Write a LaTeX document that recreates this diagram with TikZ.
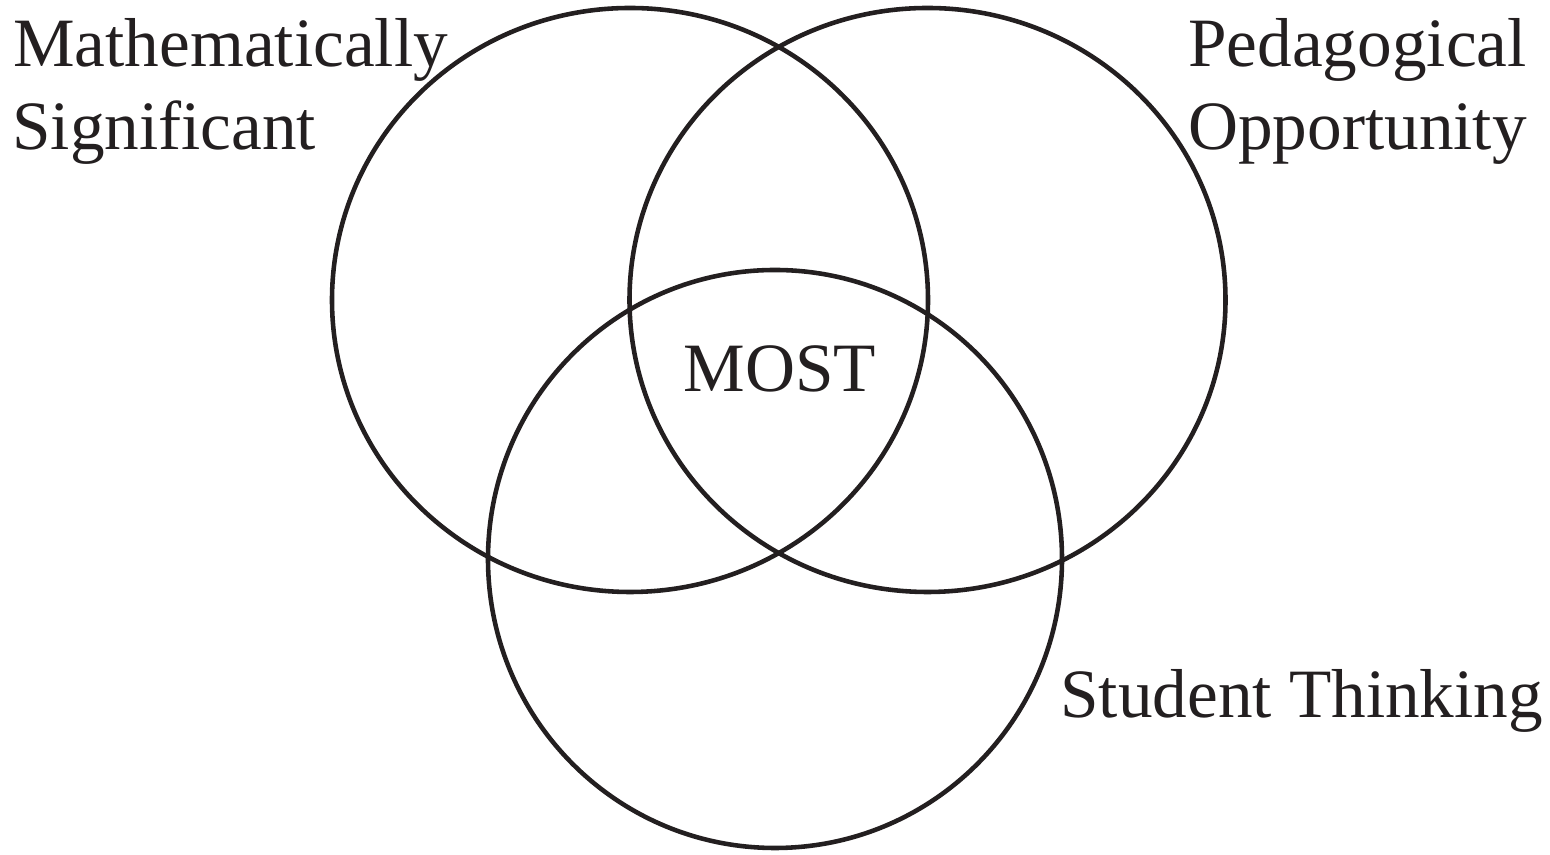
\documentclass[tikz,border=0pt]{standalone}
\usepackage{fontspec}
\setmainfont{Liberation Serif}
\usepackage{tikz}
\usetikzlibrary{positioning}
\definecolor{ink}{HTML}{231F20}

\begin{document}
\begin{tikzpicture}[line width=2.6pt, draw=ink,
    lbl/.style={inner sep=0pt, text=ink, font=\fontsize{39.4}{47.2}\selectfont}]
  \useasboundingbox (0, 0) rectangle (31, 17.1);

  \draw[ink] (12.6, 11.1) ellipse (5.96 and 5.84);
  \draw[ink] (18.55, 11.1) ellipse (5.96 and 5.84);
  \draw[ink] (15.5, 5.92) ellipse (5.74 and 5.78);

  \node[lbl, anchor=base west] (math) at (0.22, 15.76) {Mathematically};
  \node[lbl, anchor=base west] (sig) at (0.2, 14.1) {Significant};

  \node[lbl, anchor=base east] (ped) at (30.58, 15.76) {Pedagogical};
  \node[lbl, anchor=base east] (opp) at (30.58, 14.1) {Opportunity};

  \node[lbl, anchor=base west] (stud) at (21.16, 2.74) {Student Thinking};
  \node[lbl, anchor=base] (most) at (15.6, 9.26) {MOST};
\end{tikzpicture}
\end{document}
